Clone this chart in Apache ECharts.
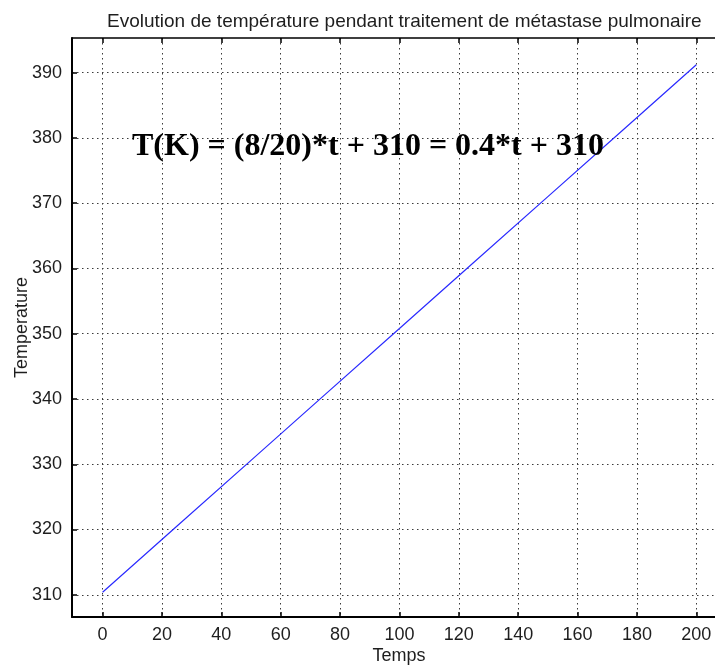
<!DOCTYPE html>
<html>
<head>
<meta charset="utf-8">
<script src="https://cdn.jsdelivr.net/npm/echarts@6/dist/echarts.min.js"></script>
<style>html,body{margin:0;padding:0;background:#fff}#c{width:715px;height:666px}</style>
</head>
<body>
<div id="c"></div>
<script>
const titleText = 'Evolution de température pendant traitement de métastase pulmonaire';
const equationText = 'T(K) = (8/20)*t + 310 = 0.4*t + 310';
const xName = 'Temps';
const yName = 'Temperature';
const timeValues = [0, 25, 50, 75, 100, 125, 150, 175, 200];
const tempValues = [310.4, 320.5, 330.6, 340.7, 350.8, 360.9, 371.0, 381.1, 391.2];
const xTicks = [0, 20, 40, 60, 80, 100, 120, 140, 160, 180, 200];
const yTicks = [310, 320, 330, 340, 350, 360, 370, 380, 390];

const chart = echarts.init(document.getElementById('c'), null, {renderer: 'canvas'});
const FONT = 'Liberation Sans, Arial, sans-serif';
const TXT = '#1e1e1e';
const grid = {color: '#3a3a3a', width: 1, type: [1.5, 3.5]};

chart.setOption({
  animation: false,
  backgroundColor: '#ffffff',
  title: {
    text: titleText, left: 102, top: 7,
    textStyle: {fontFamily: FONT, fontSize: 19, fontWeight: 'normal', color: TXT}
  },
  grid: {left: 72, top: 38, right: -11, bottom: 49, containLabel: false, outerBoundsMode: 'none'},
  xAxis: [{
    type: 'value', min: -10.3, max: 210,
    name: xName, nameLocation: 'middle', nameGap: 30, nameMoveOverlap: false,
    nameTextStyle: {fontFamily: FONT, fontSize: 18, color: TXT},
    axisLine: {show: true, onZero: false, lineStyle: {color: '#000', width: 2}},
    axisTick: {show: true, inside: true, length: 5, customValues: xTicks, lineStyle: {color: '#000', width: 1.5}},
    axisLabel: {customValues: xTicks, margin: 9, fontFamily: FONT, fontSize: 18, color: TXT},
    splitLine: {show: true, customValues: xTicks, lineStyle: grid}
  }, {
    type: 'value', min: -10.3, max: 210, position: 'top',
    axisLine: {show: true, onZero: false, lineStyle: {color: '#000', width: 1.5}},
    axisTick: {show: true, inside: true, length: 5, customValues: xTicks, lineStyle: {color: '#000', width: 1.5}},
    axisLabel: {show: false},
    splitLine: {show: false}
  }],
  yAxis: [{
    type: 'value', min: 306.6, max: 395.3,
    name: yName, nameLocation: 'middle', nameGap: 41, nameMoveOverlap: false,
    nameTextStyle: {fontFamily: FONT, fontSize: 18, color: TXT},
    axisLine: {show: true, onZero: false, lineStyle: {color: '#000', width: 2}},
    axisTick: {show: true, inside: true, length: 5, customValues: yTicks, lineStyle: {color: '#000', width: 1.5}},
    axisLabel: {customValues: yTicks, margin: 10, fontFamily: FONT, fontSize: 18, color: TXT},
    splitLine: {show: true, customValues: yTicks, lineStyle: grid}
  }],
  graphic: [{
    type: 'text', left: 132, top: 131, z: 10,
    style: {text: equationText, font: 'bold 32px "Liberation Serif", "Times New Roman", serif', fill: '#000'}
  }],
  series: [{
    type: 'line', xAxisIndex: 0, yAxisIndex: 0,
    data: timeValues.map((t, i) => [t, tempValues[i]]),
    showSymbol: false, symbol: 'none',
    lineStyle: {color: '#2a2aff', width: 1.2}
  }]
});
</script>
</body>
</html>
